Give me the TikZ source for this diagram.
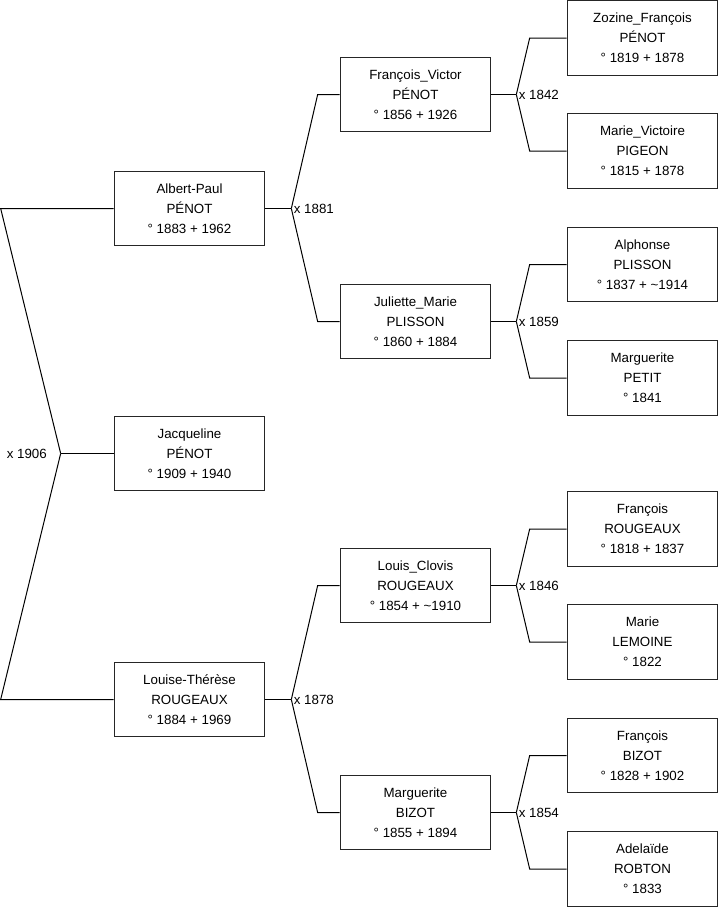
\documentclass[tikz,border=0pt]{standalone}
\usepackage{fontspec}
\setmainfont{Liberation Sans}
\usetikzlibrary{calc}

\begin{document}
\begin{tikzpicture}[x=0.75pt, y=-0.75pt, line width=0.75pt,
  person/.style={draw=black!85, minimum width=113pt, minimum height=56pt,
    align=center, font=\fontsize{10pt}{15pt}\selectfont, inner sep=0pt},
  wedding/.style={font=\fontsize{10pt}{12pt}\selectfont, inner sep=1.5pt}]
\useasboundingbox (0,0) rectangle (719,908);
% people: name/centre x/centre y/first name/surname/dates
\foreach \id/\cx/\cy/\first/\last/\dates in {
  AP/189.5/208.5/Albert-Paul/PÉNOT/{° 1883 + 1962},
  JP/189.5/453.5/Jacqueline/PÉNOT/{° 1909 + 1940},
  LT/189.5/699.5/Louise-Thérèse/ROUGEAUX/{° 1884 + 1969},
  FV/415.5/94.5/François\_Victor/PÉNOT/{° 1856 + 1926},
  JM/415.5/321.5/Juliette\_Marie/PLISSON/{° 1860 + 1884},
  LC/415.5/585.5/Louis\_Clovis/ROUGEAUX/{° 1854 + \textasciitilde1910},
  MB/415.5/812.5/Marguerite/BIZOT/{° 1855 + 1894},
  ZF/642.5/38/Zozine\_François/PÉNOT/{° 1819 + 1878},
  MV/642.5/151/Marie\_Victoire/PIGEON/{° 1815 + 1878},
  AL/642.5/264.5/Alphonse/PLISSON/{° 1837 + \textasciitilde1914},
  MP/642.5/378/Marguerite/PETIT/{° 1841},
  FR/642.5/529/François/ROUGEAUX/{° 1818 + 1837},
  ML/642.5/642/Marie/LEMOINE/{° 1822},
  FB/642.5/755.5/François/BIZOT/{° 1828 + 1902},
  AR/642.5/869/Adelaïde/ROBTON/{° 1833}}
{
  \node[person] (\id) at (\cx,\cy) {\first\\\last\\\dates};
}
% parents of Jacqueline
\draw (JP.west) -- ++(-53,0) coordinate (m1906);
\draw (m1906) -- ($(AP.west)+(-113,0)$) -- (AP.west);
\draw (m1906) -- ($(LT.west)+(-113,0)$) -- (LT.west);
\node[wedding, anchor=east, xshift=-8.5pt] at (m1906) {x 1906};
% other couples: child/father/mother/year/junction/kink
\foreach \child/\fa/\mo/\yr/\dj/\dk in {
  AP/FV/JM/1881/26/22,
  LT/LC/MB/1878/26/22,
  FV/ZF/MV/1842/25/37,
  JM/AL/MP/1859/25/37,
  LC/FR/ML/1846/25/37,
  MB/FB/AR/1854/25/37}
{
  \draw (\child.east) -- ++(\dj,0) coordinate (m\yr);
  \draw (m\yr) -- ($(\fa.west)+(-\dk,0)$) -- (\fa.west);
  \draw (m\yr) -- ($(\mo.west)+(-\dk,0)$) -- (\mo.west);
  \node[wedding, anchor=west] at (m\yr) {x \yr};
}
\end{tikzpicture}
\end{document}
